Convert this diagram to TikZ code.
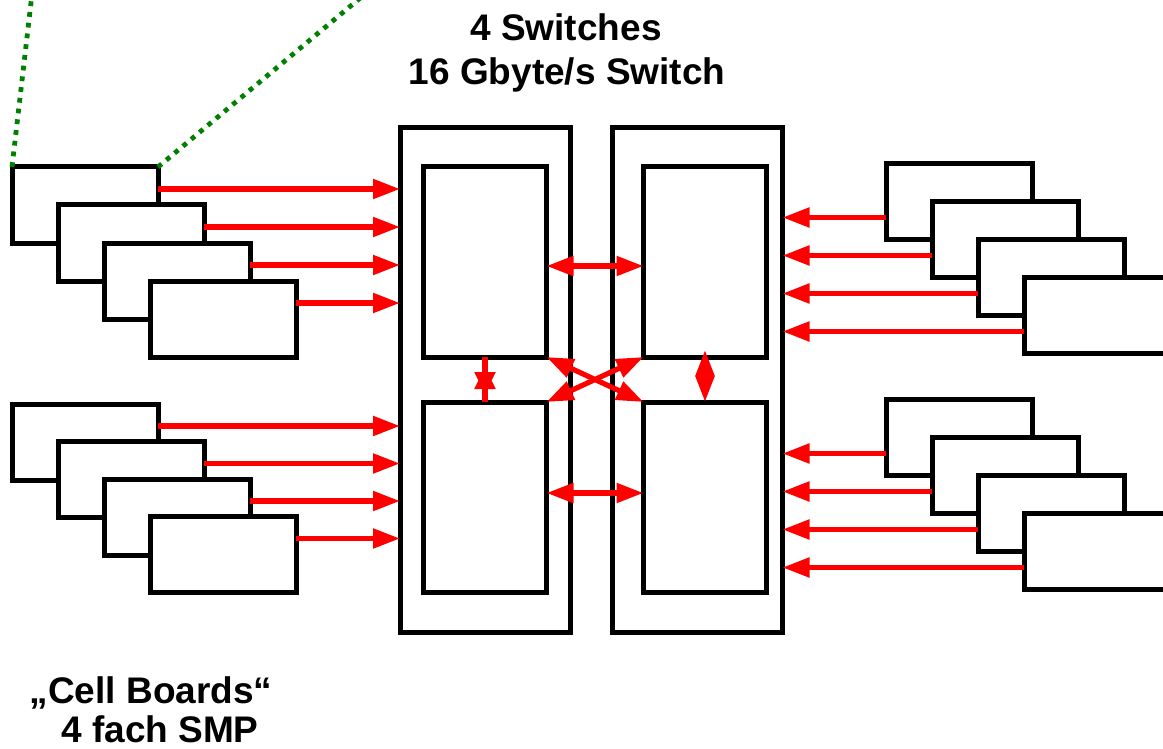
\documentclass[tikz,border=0pt]{standalone}
\usepackage{fontspec}
\setmainfont{Liberation Sans}
\usetikzlibrary{arrows.meta,calc}
\definecolor{linkgreen}{RGB}{0,128,0}
\begin{document}
\begin{tikzpicture}[x=0.5pt,y=-0.5pt,
  frame/.style={draw=black, fill=white, line width=2.5pt, inner sep=0pt, outer sep=0pt},
  board/.style={frame, minimum width=73pt, minimum height=38pt},
  outerswitch/.style={frame, minimum width=85pt, minimum height=252pt},
  innerswitch/.style={frame, minimum width=61.5pt, minimum height=95pt},
  link/.style={draw=red, line width=2.6pt, -{Triangle[length=13.5pt,width=9.5pt]}},
  duplex/.style={draw=red, line width=2.6pt, {Triangle[length=13.5pt,width=9.5pt]}-{Triangle[length=13.5pt,width=9.5pt]}},
  zoomline/.style={draw=linkgreen, line width=2.4pt, dash pattern=on 2.4pt off 3pt},
  label/.style={font=\bfseries\fontsize{18.5}{20}\selectfont, inner sep=0pt, anchor=base}
]
\useasboundingbox (0,0) rectangle (1163,749);
\clip (0,0) rectangle (1163,749);

% headings
\node[label] (title1) at (566,41) {4 Switches};
\node[label] (title2) at (567,85) {16 Gbyte/s Switch};
\node[label] (cells1) at (151,703) {„Cell Boards“};
\node[label] (cells2) at (160,742) {4 fach SMP};

% switch frames
\node[outerswitch] (swL) at (485,380) {};
\node[outerswitch] (swR) at (697.5,380) {};
\node[innerswitch] (swLT) at (485,262) {};
\node[innerswitch] (swLB) at (485,497) {};
\node[innerswitch] (swRT) at (705,262) {};
\node[innerswitch] (swRB) at (705,497) {};

% cell boards, left side
\foreach \i in {1,...,4} {
  \node[board] (lt\i) at ({85+46*(\i-1)},{205+38*(\i-1)}) {};
}
\foreach \i in {1,...,4} {
  \node[board] (lb\i) at ({85+46*(\i-1)},{442+37.5*(\i-1)}) {};
}
% cell boards, right side
\foreach \i in {1,...,4} {
  \node[board] (rt\i) at ({959+46*(\i-1)},{201.5+38*(\i-1)}) {};
}
\foreach \i in {1,...,4} {
  \node[board] (rb\i) at ({959+46*(\i-1)},{437.5+38*(\i-1)}) {};
}

% board-to-switch links
\foreach \i in {1,...,4} {
  \draw[link] ([yshift=8pt]lt\i.east) -- ([yshift=8pt]lt\i.east -| swL.west);
  \draw[link] ([yshift=8pt]lb\i.east) -- ([yshift=8pt]lb\i.east -| swL.west);
  \draw[link] ([yshift=-8pt]rt\i.west) -- ([yshift=-8pt]rt\i.west -| swR.east);
  \draw[link] ([yshift=-8pt]rb\i.west) -- ([yshift=-8pt]rb\i.west -| swR.east);
}

% switch-to-switch links
\draw[duplex] ([yshift=-2pt]swLT.east) -- ([yshift=-2pt]swRT.west);
\draw[duplex] ([yshift=2pt]swLB.east) -- ([yshift=2pt]swRB.west);
\draw[duplex] (swLT.south east) -- (swRB.north west);
\draw[duplex] (swLB.north east) -- (swRT.south west);
\draw[draw=red, line width=2.6pt, {Triangle[length=13pt,width=9pt]}-{Triangle[length=13pt,width=9pt]}]
  ([yshift=3.5pt]swRT.south) -- (swRB.north);

% short vertical link with overlapping heads
\coordinate (vL) at ($(swLT.south)!0.5!(swLB.north)$);
\draw[red, line width=2.6pt] (swLT.south) -- (swLB.north);
\draw[draw=red, line width=2.6pt, -{Triangle[length=11pt,width=10pt]}] ([yshift=-4.75pt]vL) -- ([yshift=6.25pt]vL);
\draw[draw=red, line width=2.6pt, -{Triangle[length=11pt,width=10pt]}] ([yshift=3.75pt]vL) -- ([yshift=-7.25pt]vL);

% dotted zoom lines from the first board
\coordinate (zoomA) at (32,-6);
\coordinate (zoomB) at (365,-6);
\draw[zoomline] (lt1.north west) -- (zoomA);
\draw[zoomline] (lt1.north east) -- (zoomB);
\end{tikzpicture}
\end{document}
